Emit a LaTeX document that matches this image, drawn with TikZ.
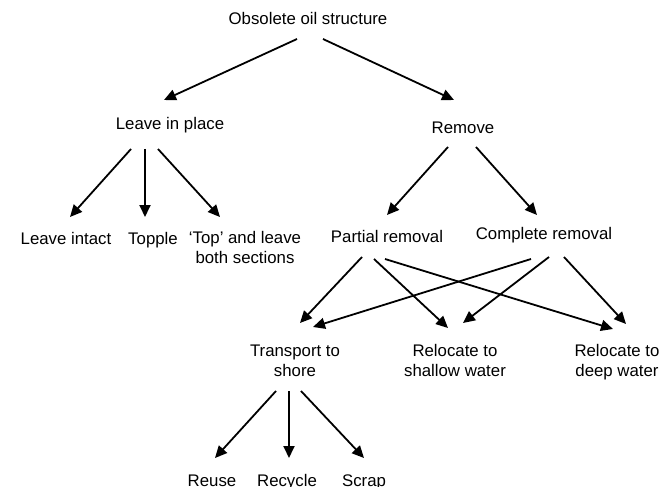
\documentclass[tikz,border=0pt]{standalone}
\usepackage{fontspec}
\setmainfont{Liberation Sans}
\usetikzlibrary{arrows.meta}

\begin{document}
\begin{tikzpicture}[x=1pt,y=-1pt,
    every node/.style={font=\fontsize{16.8}{19.3}\selectfont, inner sep=0pt, anchor=base, align=center},
    arr/.style={line width=1.8pt, -{Triangle[length=12pt,width=11pt]}}]
    \useasboundingbox (0,0) rectangle (665,487);
    % labels (two-line labels sit on their last line)
    \node (title) at (308,25) {Obsolete oil structure};
    \node (leave) at (170,129) {Leave in place};
    \node (remove) at (463,134) {Remove};
    \node (intact) at (66,244) {Leave intact};
    \node (topple) at (153,244) {Topple};
    \node (topleave) at (245,263) {`Top' and leave\\both sections};
    \node (partial) at (387,242) {Partial removal};
    \node (complete) at (544,239) {Complete removal};
    \node (transport) at (295,376) {Transport to\\shore};
    \node (shallow) at (455,376) {Relocate to\\shallow water};
    \node (deep) at (617,376) {Relocate to\\deep water};
    \node (reuse) at (212,486) {Reuse};
    \node (recycle) at (287,486) {Recycle};
    \node (scrap) at (364,486) {Scrap};
    % arrows
    \draw[arr] ([xshift=-11pt,yshift=-14pt]title.base) -- ([xshift=-6pt,yshift=29pt]leave.base);
    \draw[arr] ([xshift=15pt,yshift=-14pt]title.base) -- ([xshift=-9pt,yshift=34pt]remove.base);
    \draw[arr] ([xshift=-39pt,yshift=-20pt]leave.base) -- ([xshift=4pt,yshift=27pt]intact.base);
    \draw[arr] ([xshift=-25pt,yshift=-20pt]leave.base) -- ([xshift=-8pt,yshift=27pt]topple.base);
    \draw[arr] ([xshift=-12pt,yshift=-20pt]leave.base) -- ([xshift=-25pt,yshift=46pt]topleave.base);
    \draw[arr] ([xshift=-15pt,yshift=-13pt]remove.base) -- ([xshift=0pt,yshift=27pt]partial.base);
    \draw[arr] ([xshift=13pt,yshift=-13pt]remove.base) -- ([xshift=-7pt,yshift=24pt]complete.base);
    \draw[arr] ([xshift=-25pt,yshift=-15pt]partial.base) -- ([xshift=5pt,yshift=53pt]transport.base);
    \draw[arr] ([xshift=-13pt,yshift=-17pt]partial.base) -- ([xshift=-7pt,yshift=48pt]shallow.base);
    \draw[arr] ([xshift=-2pt,yshift=-17pt]partial.base) -- ([xshift=-4pt,yshift=47pt]deep.base);
    \draw[arr] ([xshift=-13pt,yshift=-20pt]complete.base) -- ([xshift=18pt,yshift=49pt]transport.base);
    \draw[arr] ([xshift=5pt,yshift=-18pt]complete.base) -- ([xshift=8pt,yshift=53pt]shallow.base);
    \draw[arr] ([xshift=20pt,yshift=-18pt]complete.base) -- ([xshift=9pt,yshift=52pt]deep.base);
    \draw[arr] ([xshift=-19pt,yshift=-15pt]transport.base) -- ([xshift=3pt,yshift=28pt]reuse.base);
    \draw[arr] ([xshift=-6pt,yshift=-15pt]transport.base) -- ([xshift=2pt,yshift=28pt]recycle.base);
    \draw[arr] ([xshift=6pt,yshift=-15pt]transport.base) -- ([xshift=0pt,yshift=28pt]scrap.base);
\end{tikzpicture}
\end{document}
